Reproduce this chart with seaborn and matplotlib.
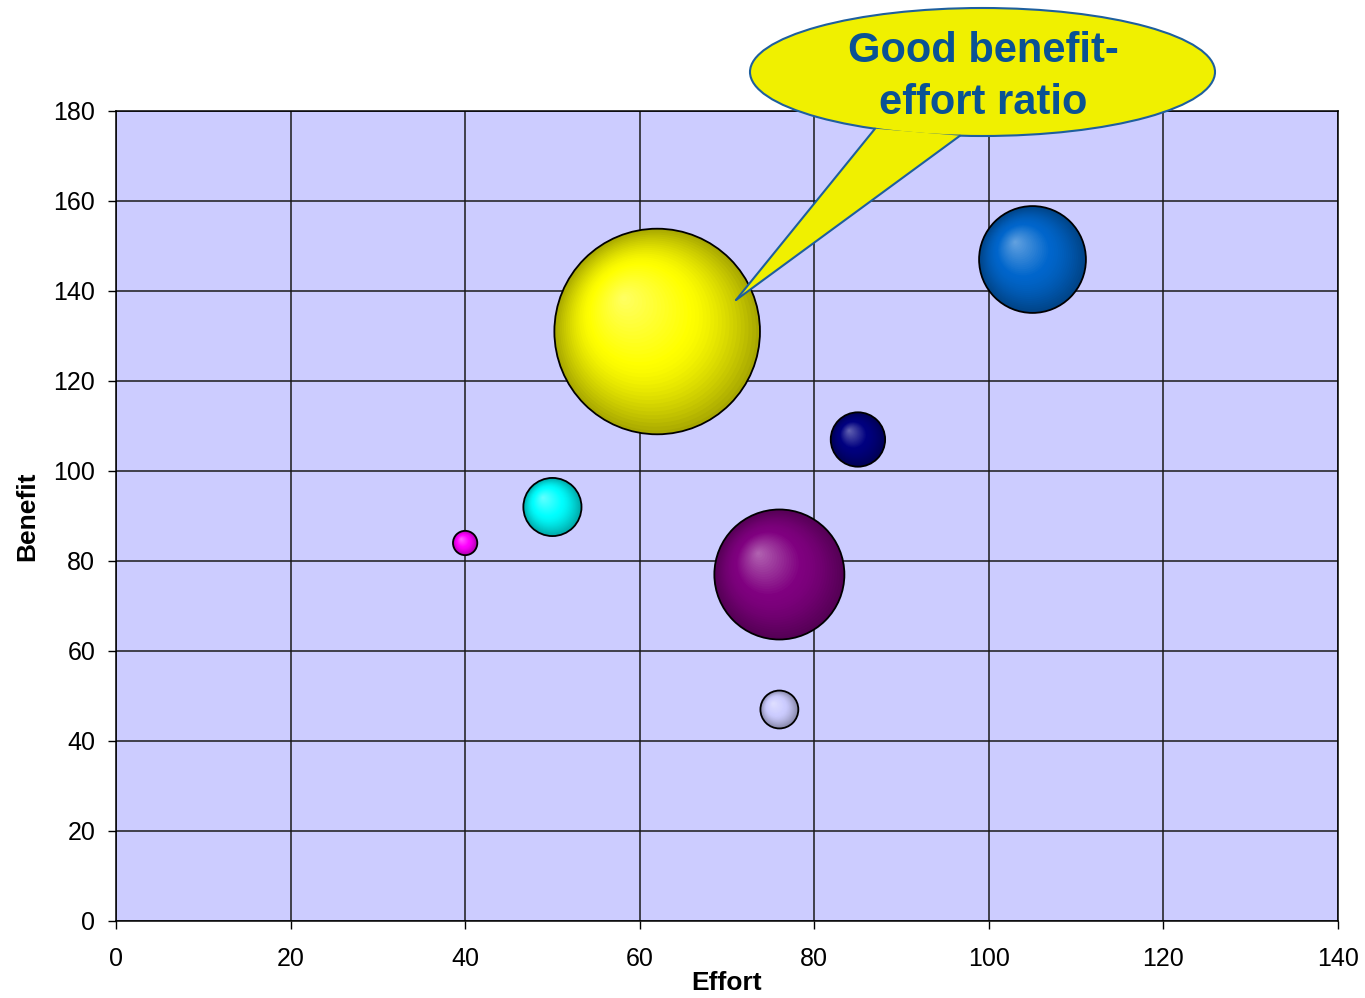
import numpy as np
import pandas as pd
import matplotlib
matplotlib.use("Agg")
import matplotlib.pyplot as plt
from matplotlib.patches import Ellipse, Polygon
from matplotlib.lines import Line2D
from matplotlib import colors as mcolors
import seaborn as sns

# ---------------- data ----------------
names = ["A", "B", "C", "D", "E", "F", "G"]
effort = [40, 50, 62, 85, 76, 76, 105]
benefit = [84, 92, 131, 107, 77, 47, 147]
bubble_size = [1.4, 8, 100, 7, 40, 3.4, 27]
bubble_colors = ["#FF00FF", "#00FFFF", "#FFFF00", "#000080", "#800080", "#CCCCFF", "#0066CC"]
x_ticks = [0, 20, 40, 60, 80, 100, 120, 140]
y_ticks = [0, 20, 40, 60, 80, 100, 120, 140, 160, 180]
callout_text = "Good benefit-\neffort ratio"

df = pd.DataFrame({"name": names, "effort": effort, "benefit": benefit,
                   "size": bubble_size, "color": bubble_colors})

sns.set_theme(style="ticks")
plt.rcParams["font.family"] = ["Liberation Sans", "DejaVu Sans"]
plt.rcParams["text.color"] = "black"
plt.rcParams["axes.labelcolor"] = "black"

W, H, DPI = 1365, 998, 100
fig = plt.figure(figsize=(W / DPI, H / DPI), dpi=DPI)
fig.patch.set_facecolor("white")
ax = fig.add_axes([116 / W, 1 - 921 / H, (1338 - 116) / W, (921 - 111) / H])
ax.set_facecolor("#CCCCFF")
ax.set_xlim(0, 140)
ax.set_ylim(0, 180)
ax.set_xticks(x_ticks)
ax.set_yticks(y_ticks)
ax.grid(True, color="#1a1a1a", linewidth=1.1)
ax.set_axisbelow(True)
for sp in ax.spines.values():
    sp.set_color("black")
    sp.set_linewidth(1.1)
    sp.set_visible(True)
ax.tick_params(axis="both", direction="out", length=6, width=1.0, color="black",
               labelsize=18, labelcolor="black")
ax.tick_params(axis="x", pad=13)
ax.tick_params(axis="y", pad=9)

# marker area scale: largest bubble (size 100) -> radius ~103 px
S_MAX = (2 * 102.8 * 72 / DPI) ** 2
df["s"] = df["size"] / 100.0 * S_MAX
df["r_px"] = np.sqrt(df["s"]) / 2 * DPI / 72

px_per_x = ax.bbox.width / 140.0
px_per_y = ax.bbox.height / 180.0


def shade(base, f):
    rgb = np.array(mcolors.to_rgb(base))
    light = rgb + (1 - rgb) * 0.40
    dark = rgb * 0.66
    if f < 0.5:
        t = f / 0.5
        return tuple(light + (rgb - light) * t)
    t = (f - 0.5) / 0.5
    return tuple(rgb + (dark - rgb) * t ** 1.4)


N = 36
fracs = np.linspace(1.0, 1.0 / N, N)
for k, f in enumerate(fracs):
    layer = df.copy()
    off_x = -0.33 * layer["r_px"] * (1 - f) / px_per_x
    off_y = 0.33 * layer["r_px"] * (1 - f) / px_per_y
    layer["lx"] = layer["effort"] + off_x
    layer["ly"] = layer["benefit"] + off_y
    pal = {n: shade(c, f) for n, c in zip(layer["name"], layer["color"])}
    szs = {n: s * f ** 2 for n, s in zip(layer["name"], layer["s"])}
    sns.scatterplot(data=layer, x="lx", y="ly", hue="name", palette=pal,
                    size="name", sizes=szs, legend=False, linewidth=0,
                    alpha=1, ax=ax, zorder=3 + k * 0.01)

# outlines
sns.scatterplot(data=df, x="effort", y="benefit", size="name",
                sizes=dict(zip(df["name"], df["s"])), legend=False,
                facecolor="none", edgecolor="black", linewidth=1.3, ax=ax, zorder=5)

ax.set_xlabel("Effort", fontsize=19, fontweight="bold", labelpad=0, color="black")
ax.set_ylabel("Benefit", fontsize=19, fontweight="bold", labelpad=10, color="black")

# ---------------- callout ----------------
def fx(px):
    return px / W


def fy(py):
    return 1 - py / H


fill_c = "#F0F000"
edge_c = "#1E5F9E"
ell = Ellipse((fx(982.5), fy(72)), width=465 / W, height=128 / H,
              transform=fig.transFigure, facecolor=fill_c, edgecolor=edge_c,
              linewidth=1.5, zorder=10)
fig.add_artist(ell)
tip = (fx(736), fy(300))
b1 = (fx(875), fy(128.7))
b2 = (fx(960), fy(135.7))
tail = Polygon([tip, b1, b2], closed=True, transform=fig.transFigure,
               facecolor=fill_c, edgecolor="none", zorder=11)
fig.add_artist(tail)
for b in (b1, b2):
    fig.add_artist(Line2D([tip[0], b[0]], [tip[1], b[1]], transform=fig.transFigure,
                          color=edge_c, linewidth=1.5, zorder=12))
fig.text(fx(983), fy(77), callout_text, ha="center", va="center", fontsize=30,
         fontweight="bold", color="#0A5294", linespacing=1.38, zorder=13)

fig.savefig("out.png", dpi=DPI)
